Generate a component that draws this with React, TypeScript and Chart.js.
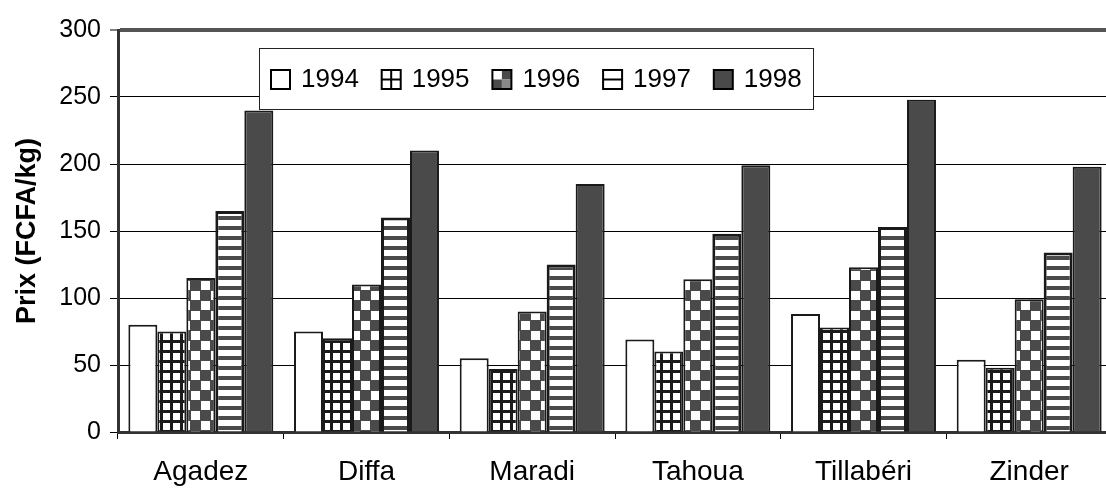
import React, { useEffect, useRef } from "react";
import { Chart, registerables } from "chart.js";

Chart.register(...registerables);

const categories = ["Agadez", "Diffa", "Maradi", "Tahoua", "Tillabéri", "Zinder"];
const years = ["1994", "1995", "1996", "1997", "1998"];
const v1994 = [80, 75, 55, 69, 88, 54];
const v1995 = [75, 70, 47, 60, 78, 48];
const v1996 = [115, 110, 90, 114, 123, 99];
const v1997 = [165, 160, 125, 148, 153, 134];
const v1998 = [240, 210, 185, 199, 248, 198];
const yTicks = [0, 50, 100, 150, 200, 250, 300];
const yTitle = "Prix (FCFA/kg)";

const DARK = "#4a4a4a";
const INK = "#1a1a1a";
const FONT = "'Liberation Sans', Arial, sans-serif";

function makePatterns(ctx: CanvasRenderingContext2D) {
  const mk = (w: number, h: number, draw: (c: CanvasRenderingContext2D) => void) => {
    const cv = document.createElement("canvas");
    cv.width = w;
    cv.height = h;
    const c = cv.getContext("2d")!;
    draw(c);
    return ctx.createPattern(cv, "repeat")!;
  };
  const grid = mk(10, 10, (c) => {
    c.fillStyle = "#fff";
    c.fillRect(0, 0, 10, 10);
    c.fillStyle = INK;
    c.fillRect(0, 0, 10, 3);
    c.fillRect(0, 0, 3, 10);
  });
  const checker = mk(20, 20, (c) => {
    c.fillStyle = DARK;
    c.fillRect(0, 0, 20, 20);
    c.fillStyle = "#fff";
    c.fillRect(1, 1, 9, 9);
    c.fillRect(11, 11, 9, 9);
  });
  const stripes = mk(10, 10, (c) => {
    c.fillStyle = "#fff";
    c.fillRect(0, 0, 10, 10);
    c.fillStyle = DARK;
    c.fillRect(0, 6, 10, 4);
  });
  return ["#ffffff", grid, checker, stripes, DARK] as (string | CanvasPattern)[];
}

function drawMarker(c: CanvasRenderingContext2D, i: number, x: number, y: number, s: number) {
  const h = s / 2;
  c.fillStyle = "#fff";
  c.fillRect(x, y, s, s);
  c.strokeStyle = "#000";
  c.lineWidth = 2;
  if (i === 1) {
    c.beginPath();
    c.moveTo(x + h, y);
    c.lineTo(x + h, y + s);
    c.moveTo(x, y + h);
    c.lineTo(x + s, y + h);
    c.stroke();
  } else if (i === 2) {
    c.fillStyle = DARK;
    c.fillRect(x + h, y, h, h);
    c.fillRect(x, y + h, h, h);
    c.fillStyle = "#888";
    c.fillRect(x + h, y + h, h, h);
  } else if (i === 3) {
    c.beginPath();
    c.moveTo(x, y + h);
    c.lineTo(x + s, y + h);
    c.stroke();
  } else if (i === 4) {
    c.fillStyle = DARK;
    c.fillRect(x, y, s, s);
  }
  c.strokeRect(x, y, s, s);
}

export default function App() {
  const ref = useRef<HTMLCanvasElement>(null);

  useEffect(() => {
    const canvas = ref.current!;
    const ctx = canvas.getContext("2d")!;
    const fills = makePatterns(ctx);
    const series = [v1994, v1995, v1996, v1997, v1998];

    const legendPlugin = {
      id: "insideLegend",
      afterDraw(chart: any) {
        const c = chart.ctx as CanvasRenderingContext2D;
        const x0 = 259, y0 = 48, x1 = 813, y1 = 109;
        c.save();
        c.fillStyle = "#fff";
        c.fillRect(x0, y0, x1 - x0, y1 - y0);
        c.strokeStyle = "#222";
        c.lineWidth = 1;
        c.strokeRect(x0 + 0.5, y0 + 0.5, x1 - x0, y1 - y0);
        c.font = `26px ${FONT}`;
        c.textBaseline = "middle";
        years.forEach((yr, i) => {
          const mx = 271 + i * 110.7;
          const my = 70;
          drawMarker(c, i, mx, my, 19);
          c.fillStyle = "#000";
          c.fillText(yr, mx + 30, my + 10);
        });
        c.restore();
      },
    };

    const chart = new Chart(ctx, {
      type: "bar",
      data: {
        labels: categories,
        datasets: years.map((yr, i) => ({
          label: yr,
          data: series[i],
          backgroundColor: fills[i] as any,
          borderColor: INK,
          borderWidth: i === 3 ? 3 : 2,
          categoryPercentage: 0.875,
          barPercentage: 1,
        })),
      },
      options: {
        animation: false,
        responsive: false,
        devicePixelRatio: 1,
        layout: { padding: { top: 30, right: 8, left: 0, bottom: 0 } },
        plugins: {
          legend: { display: false },
          tooltip: { enabled: false },
        },
        scales: {
          x: {
            grid: {
              offset: true,
              drawOnChartArea: false,
              drawTicks: true,
              tickLength: 7,
              tickColor: "#000",
            },
            border: { display: true, width: 3, color: "#333" },
            ticks: {
              color: "#000",
              padding: 16,
              font: { size: 28, family: FONT },
            },
            afterFit: (s: any) => {
              s.height = 59;
            },
          },
          y: {
            min: 0,
            max: 300,
            afterBuildTicks: (s: any) => {
              s.ticks = yTicks.map((v) => ({ value: v }));
            },
            grid: {
              color: (c: any) => (c.tick && c.tick.value === 300 ? "#555" : "#000"),
              lineWidth: (c: any) => (c.tick && c.tick.value === 300 ? 4 : 1),
              drawTicks: true,
              tickLength: 8,
              tickWidth: 1,
              tickColor: "#000",
            },
            border: { display: true, width: 3, color: "#333" },
            ticks: {
              color: "#000",
              padding: 9,
              font: { size: 25, family: FONT },
            },
            title: {
              display: true,
              text: yTitle,
              color: "#000",
              padding: { top: 11, bottom: 0 },
              font: { size: 27, weight: "bold", family: FONT },
            },
            afterFit: (s: any) => {
              s.width = 118;
            },
          },
        },
      },
      plugins: [legendPlugin],
    });
    return () => chart.destroy();
  }, []);

  return (
    <div
      style={{
        position: "absolute",
        left: 0,
        top: 0,
        width: 1106,
        height: 491,
        overflow: "hidden",
        background: "#fff",
      }}
    >
      <canvas ref={ref} width={1120} height={491} style={{ display: "block" }} />
    </div>
  );
}
